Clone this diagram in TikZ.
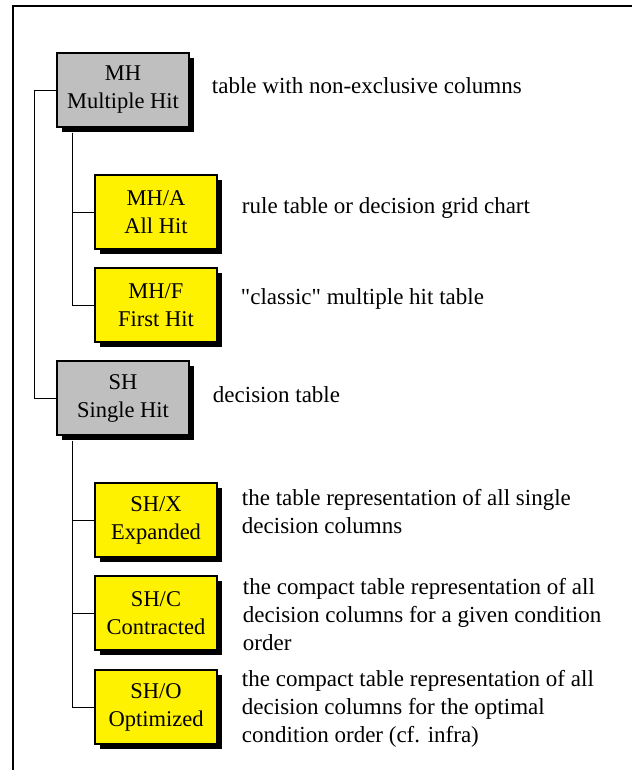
\documentclass[tikz,border=0pt]{standalone}
\usepackage{fontspec}
\setmainfont{Liberation Serif}[Ligatures=TeXOff]
\usetikzlibrary{positioning}
\usetikzlibrary{shadows}

\begin{document}
\begin{tikzpicture}[x=1pt,y=-1pt]
\tikzstyle{hit} = [draw,line width=1.5pt,align=center,inner sep=0pt,font=\fontsize{22.5}{28}\selectfont,drop shadow={shadow xshift=5pt,shadow yshift=-5pt,fill=black,opacity=1}]
\tikzstyle{grp} = [hit,fill=gray!50,minimum width=132pt,minimum height=74pt]
\tikzstyle{sub} = [hit,fill=yellow,minimum width=122pt,minimum height=74pt]
\tikzstyle{txt} = [align=left,inner sep=0pt,font=\fontsize{23}{28}\selectfont]
\tikzstyle{link} = [line width=0.8pt]

\useasboundingbox (0,0) rectangle (632,770);
\draw[line width=2pt] (13,770) -- (13,6.5) -- (632,6.5);

% boxes
\node[grp] (mh) at (123,90) {MH\\Multiple Hit};
\node[sub] (mha) at (156,212) {MH/A\\All Hit};
\node[sub] (mhf) at (156,305) {MH/F\\First Hit};
\node[grp] (sh) at (123,398) {SH\\Single Hit};
\node[sub] (shx) at (156,520) {SH/X\\Expanded};
\node[sub] (shc) at (156,613) {SH/C\\Contracted};
\node[sub] (sho) at (156,707) {SH/O\\Optimized};

% descriptions
\node[txt,right=22pt of mh,yshift=4pt] (mhtxt) {table with non-exclusive columns};
\node[txt,right=24pt of mha,yshift=4pt] (mhatxt) {rule table or decision grid chart};
\node[txt,right=23pt of mhf,yshift=6pt] (mhftxt) {"classic" multiple hit table};
\node[txt,right=23pt of sh,yshift=3pt] (shtxt) {decision table};
\node[txt,right=24pt of shx,yshift=8pt] (shxtxt) {the table representation of all single\\decision columns};
\node[txt,right=25pt of shc,yshift=-2pt] (shctxt) {the compact table representation of all\\decision columns for a given condition\\order};
\node[txt,right=24pt of sho,yshift=-2pt] (shotxt) {the compact table representation of all\\decision columns for the optimal\\condition order (cf. infra)};

% tree
\draw[link] (mh.west) -- ++(-22,0) |- (sh.west);
\coordinate (mhstem) at ([xshift=16pt,yshift=-5pt]mh.south west);
\coordinate (shstem) at ([xshift=16pt,yshift=-5pt]sh.south west);
\foreach \c in {mha,mhf} \draw[link] (mhstem) |- (\c.west);
\foreach \c in {shx,shc,sho} \draw[link] (shstem) |- (\c.west);

\end{tikzpicture}
\end{document}
